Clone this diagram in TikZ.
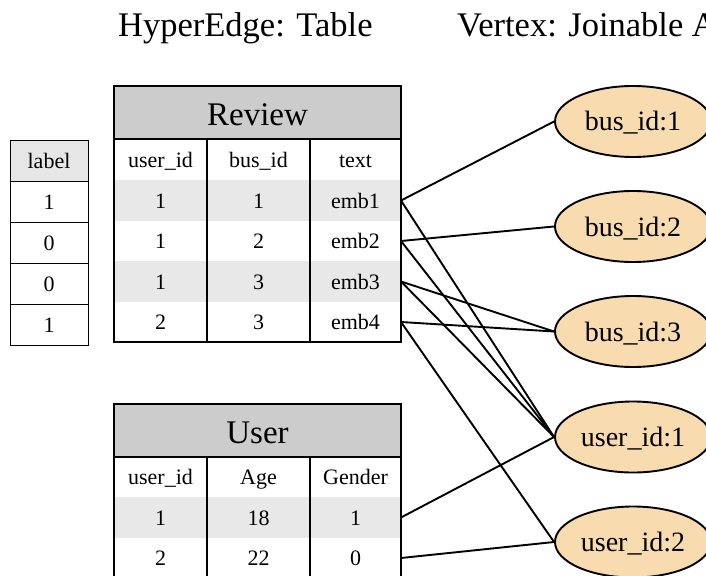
\documentclass[tikz,border=0pt]{standalone}
\usepackage{fontspec}
\setmainfont{Liberation Serif}
\usetikzlibrary{shapes.geometric}
\definecolor{hdr}{HTML}{CCCCCC}
\definecolor{stripe}{HTML}{E8E8E8}
\definecolor{lblhdr}{HTML}{E6E6E6}
\definecolor{peach}{HTML}{F9DBB0}
\begin{document}
\begin{tikzpicture}[x=1pt,y=-1pt,
  cell/.style={font=\fontsize{22}{26}\selectfont, text height=15pt, text depth=0pt, inner sep=0pt},
  head/.style={font=\fontsize{33}{38}\selectfont, inner sep=0pt, text height=25pt, text depth=0pt},
  titletext/.style={font=\fontsize{34.5}{40}\selectfont, anchor=base west, inner sep=0pt},
  vert/.style={ellipse, draw, line width=1.9pt, fill=peach, minimum width=156pt, minimum height=71pt, inner sep=0pt, font=\fontsize{28}{32}\selectfont, text height=19pt, text depth=0pt},
  edge/.style={line width=1.9pt},
  tblborder/.style={line width=2.4pt},
  thinborder/.style={line width=0.9pt}]
\useasboundingbox (0,0) rectangle (706,575);
\clip (0,0) rectangle (706,575);

% titles
\node[titletext] (t1) at (118,37) {HyperEdge: Table};
\node[titletext] (t2) at (457,37) {Vertex: Joinable A};

% label table
\fill[lblhdr] (10,140) rectangle (88,181);
\draw[thinborder] (10,140) rectangle (88,345);
\foreach \y in {181,222,263,304} \draw[thinborder] (10,\y) -- (88,\y);
\node[cell] (lb-h) at (49,160.5) {label};
\node[cell] (lb-1) at (49,201.5) {1};
\node[cell] (lb-2) at (49,242.5) {0};
\node[cell] (lb-3) at (49,283.5) {0};
\node[cell] (lb-4) at (49,324.5) {1};

% Review table
\fill[stripe] (114,180) rectangle (401,221);
\fill[stripe] (114,261) rectangle (401,302);
\fill[hdr] (114,86) rectangle (401,139);
\draw[tblborder] (114,139) -- (401,139);
\draw[tblborder] (207,139) -- (207,342);
\draw[tblborder] (310,139) -- (310,342);
\draw[tblborder] (114,86) rectangle (401,342);
\node[head] (rvT) at (257.5,112.5) {Review};
\node[cell] (rv-h1) at (160.5,159.5) {user\_id};
\node[cell] (rv-h2) at (258.5,159.5) {bus\_id};
\node[cell] (rv-h3) at (355.5,159.5) {text};
\node[cell] (rv-11) at (160.5,200.5) {1};
\node[cell] (rv-12) at (258.5,200.5) {1};
\node[cell] (rv-13) at (355.5,200.5) {emb1};
\node[cell] (rv-21) at (160.5,241) {1};
\node[cell] (rv-22) at (258.5,241) {2};
\node[cell] (rv-23) at (355.5,241) {emb2};
\node[cell] (rv-31) at (160.5,281.5) {1};
\node[cell] (rv-32) at (258.5,281.5) {3};
\node[cell] (rv-33) at (355.5,281.5) {emb3};
\node[cell] (rv-41) at (160.5,322) {2};
\node[cell] (rv-42) at (258.5,322) {3};
\node[cell] (rv-43) at (355.5,322) {emb4};

% User table
\fill[stripe] (114,497) rectangle (401,538);
\fill[hdr] (114,404) rectangle (401,457);
\draw[tblborder] (114,457) -- (401,457);
\draw[tblborder] (207,457) -- (207,580);
\draw[tblborder] (310,457) -- (310,580);
\draw[tblborder] (114,404) rectangle (401,580);
\node[head] (usT) at (257.5,430.5) {User};
\node[cell] (us-h1) at (160.5,477) {user\_id};
\node[cell] (us-h2) at (258.5,477) {Age};
\node[cell] (us-h3) at (355.5,477) {Gender};
\node[cell] (us-11) at (160.5,517.5) {1};
\node[cell] (us-12) at (258.5,517.5) {18};
\node[cell] (us-13) at (355.5,517.5) {1};
\node[cell] (us-21) at (160.5,558) {2};
\node[cell] (us-22) at (258.5,558) {22};
\node[cell] (us-23) at (355.5,558) {0};

% vertices
\node[vert] (b1) at (633,121.5) {bus\_id:1};
\node[vert] (b2) at (633,226.5) {bus\_id:2};
\node[vert] (b3) at (633,331.5) {bus\_id:3};
\node[vert] (u1) at (633,437) {user\_id:1};
\node[vert] (u2) at (633,542) {user\_id:2};

% row ports
\coordinate (p1) at (401,200.5);
\coordinate (p2) at (401,241);
\coordinate (p3) at (401,281.5);
\coordinate (p4) at (401,322);
\coordinate (q1) at (401,517.5);
\coordinate (q2) at (401,558);

% edges
\draw[edge] (p1) -- (b1.west);
\draw[edge] (p1) -- (u1.west);
\draw[edge] (p2) -- (b2.west);
\draw[edge] (p2) -- (u1.west);
\draw[edge] (p3) -- (b3.west);
\draw[edge] (p3) -- (u1.west);
\draw[edge] (p4) -- (b3.west);
\draw[edge] (p4) -- (u2.west);
\draw[edge] (q1) -- (u1.west);
\draw[edge] (q2) -- (u2.west);
\end{tikzpicture}
\end{document}
